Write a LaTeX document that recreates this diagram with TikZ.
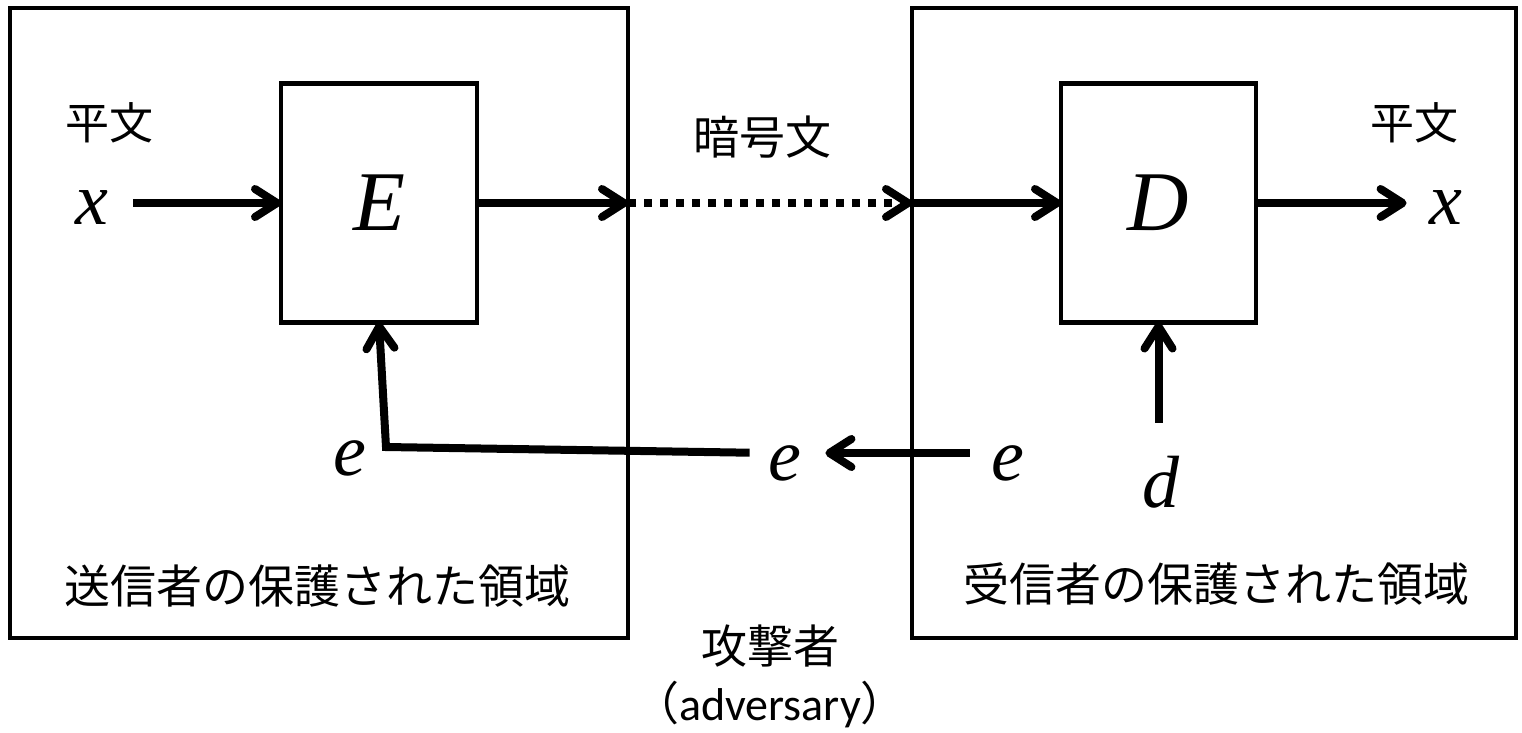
\documentclass[tikz,border=0pt]{standalone}
\usepackage{fontspec}
\setmainfont{Liberation Serif}
\newfontfamily\varfont{Liberation Serif}[ItalicFont={Liberation Serif Italic}]
\newfontfamily\jpfont{Noto Sans CJK JP}
\newfontfamily\advfont{Carlito}
\usetikzlibrary{arrows.meta}
\begin{document}
\begin{tikzpicture}[x=1pt,y=-1pt,
  every node/.style={inner sep=0pt, outer sep=0pt},
  region/.style={draw, line width=4.5pt},
  proc/.style={draw, line width=4.5pt, font=\varfont\fontsize{85}{90}\selectfont\itshape},
  arr/.style={line width=8pt, -{Straight Barb[length=22pt,width=28pt,round]}},
  jtxt/.style={font=\jpfont\fontsize{46}{50}\selectfont},
  jsmall/.style={font=\jpfont\fontsize{44}{48}\selectfont},
  var/.style={font=\varfont\fontsize{74}{80}\selectfont\itshape}]
\useasboundingbox (0,0) rectangle (1522,732);
% protected regions
\node[region, minimum width=618pt, minimum height=630pt] (L) at (319,323) {};
\node[region, minimum width=604pt, minimum height=630pt] (R) at (1214,323) {};
% processors
\node[proc, minimum width=196pt, minimum height=239pt] (E) at (379,203) {E};
\node[proc, minimum width=195pt, minimum height=239pt] (D) at (1158.5,203) {D};
% labels
\node[jsmall] (p1) at (109,123) {平文};
\node[jsmall] (p2) at (1414,123) {平文};
\node[jtxt] (cipher) at (762,137) {暗号文};
\node[var] (xin) at (92,208) {x};
\node[var] (xout) at (1446,208) {x};
\node[var] (e1) at (350,458) {e};
\node[var] (e2) at (785,463) {e};
\node[var] (e3) at (1008,463) {e};
\node[var] (dl) at (1161,482) {d};
\node[jtxt] (sr) at (317,586) {送信者の保護された領域};
\node[jtxt] (rr) at (1216,584) {受信者の保護された領域};
\node[jtxt] (adv) at (770,646) {攻撃者};
\node[anchor=base, font=\advfont\fontsize{46}{50}\selectfont] (adven) at (770,720) {{\jpfont （}adversary{\jpfont ）}};
\coordinate (corner) at (386,447);
% connectors
\draw[arr, shorten <=25pt] (xin.east |- E.west) -- (E.west);
\draw[arr] (E.east) -- (L.east |- E.east);
\draw[arr, dash pattern=on 8pt off 8pt] (L.east |- E.east) -- (R.west |- E.east);
\draw[arr] (R.west |- D.west) -- (D.west);
\draw[arr, shorten >=23pt] (D.east) -- (xout.west |- D.east);
\draw[arr, shorten <=33pt] (dl.north -| D.south) -- (D.south);
\draw[arr, shorten <=22pt, shorten >=24pt] ([yshift=10pt]e3.west) -- ([yshift=10pt]e2.east);
\draw[arr, shorten <=19pt] ([yshift=10pt]e2.west) -- (corner) -- (E.south);
\end{tikzpicture}
\end{document}
